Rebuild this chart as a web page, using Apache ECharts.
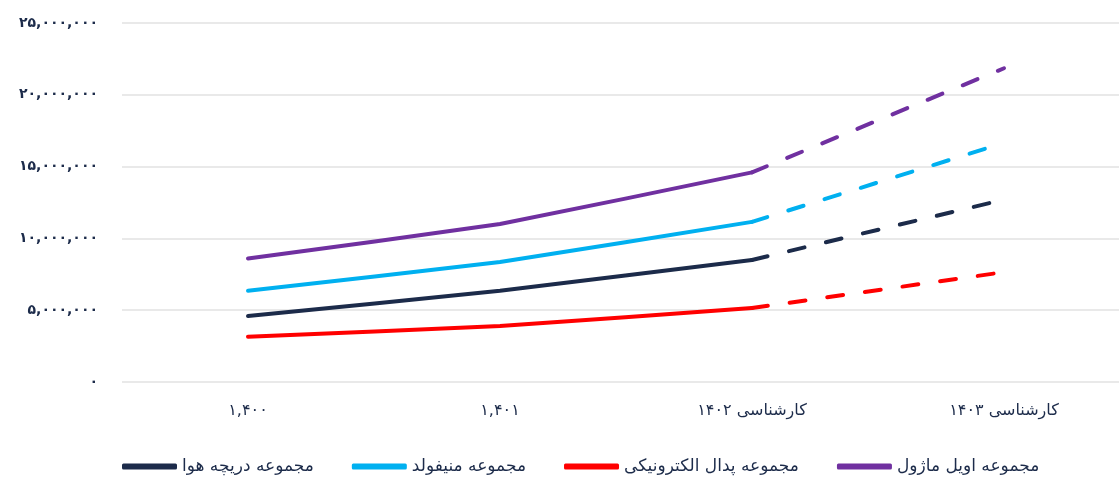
<!DOCTYPE html>
<html>
<head>
<meta charset="utf-8">
<script src="https://cdn.jsdelivr.net/npm/echarts@6/dist/echarts.min.js"></script>
<style>
html,body{margin:0;padding:0;background:#fff;}
#main{width:1119px;height:480px;}
</style>
</head>
<body>
<div id="main"></div>
<script>
// categories (x axis)
var years = ['۱,۴۰۰', '۱,۴۰۱', 'کارشناسی ۱۴۰۲', 'کارشناسی ۱۴۰۳'];
// series names
var names = ['مجموعه دریچه هوا', 'مجموعه منیفولد', 'مجموعه پدال الکترونیکی', 'مجموعه اویل ماژول'];
var colors = ['#1c2b4a', '#00b0f0', '#ff0000', '#7030a0'];
// values (last point is the forecast, drawn dashed)
var damper = [4600000, 6350000, 8500000, 12700000];
var manifold = [6350000, 8350000, 11150000, 16650000];
var pedal = [3150000, 3900000, 5150000, 7650000];
var oilModule = [8600000, 11000000, 14600000, 21850000];
var yTicks = [0, 5000000, 10000000, 15000000, 20000000, 25000000];

var faDigits = '۰۱۲۳۴۵۶۷۸۹';
function toFa(n) {
    return n.toLocaleString('en-US').replace(/[0-9]/g, function (d) { return faDigits[+d]; });
}

var dom = document.getElementById('main');
var myChart = echarts.init(dom);
var allData = [damper, manifold, pedal, oilModule];
var series = [];
for (var i = 0; i < allData.length; i++) {
    var d = allData[i];
    // solid part: real values
    series.push({
        name: names[i],
        type: 'line',
        data: [d[0], d[1], d[2], '-'],
        showSymbol: false,
        smooth: 0.08,
        lineStyle: {width: 4, color: colors[i], cap: 'round'},
        itemStyle: {color: colors[i]}
    });
    // dashed part: forecast
    series.push({
        name: names[i] + ' پیش‌بینی',
        type: 'line',
        data: ['-', '-', d[2], d[3]],
        showSymbol: false,
        lineStyle: {width: 4, color: colors[i], type: [16, 22], cap: 'round'},
        itemStyle: {color: colors[i]}
    });
}

var option = {
    color: colors,
    grid: {left: 122, top: 23, width: 1008, bottom: 98, outerBoundsMode: 'none', containLabel: false},
    legend: {
        data: names,
        left: 117,
        bottom: 0,
        icon: 'roundRect',
        itemWidth: 55,
        itemHeight: 6,
        itemGap: 38,
        textStyle: {color: '#1c2b4a', fontSize: 17, fontFamily: 'DejaVu Sans'}
    },
    xAxis: {
        type: 'category',
        data: years,
        axisLine: {show: false},
        axisTick: {show: false},
        axisLabel: {color: '#1c2b4a', fontSize: 16, margin: 21, fontFamily: 'DejaVu Sans'}
    },
    yAxis: {
        type: 'value',
        min: yTicks[0],
        max: yTicks[yTicks.length - 1],
        interval: yTicks[1] - yTicks[0],
        axisLine: {show: false},
        axisTick: {show: false},
        splitLine: {lineStyle: {color: '#e9e9e9', width: 2}},
        axisLabel: {
            color: '#1c2b4a', fontSize: 14, margin: 24, fontWeight: 'bold', fontFamily: 'DejaVu Sans',
            formatter: function (v) { return toFa(v); }
        }
    },
    series: series
};
if (option && typeof option === "object") {
    myChart.setOption(option);
}
</script>
</body>
</html>
